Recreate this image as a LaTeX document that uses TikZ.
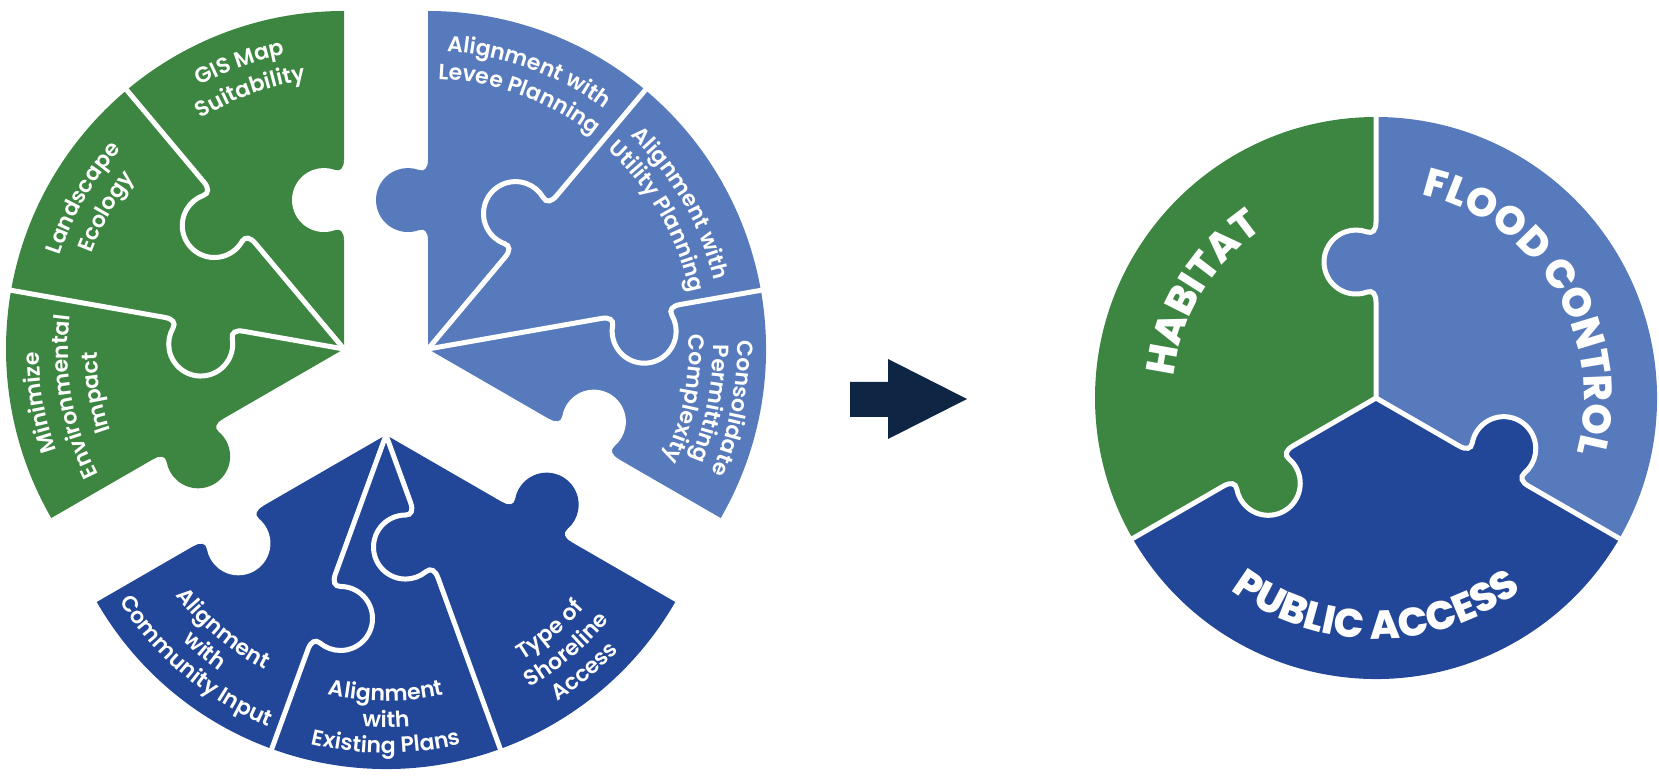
\documentclass[tikz,border=0pt]{standalone}
\usepackage{fontspec}
\setmainfont{Poppins}
\newfontfamily\psemi{Poppins SemiBold}
\newfontfamily\pxbold{Poppins ExtraBold}
\usetikzlibrary{decorations.text}
\definecolor{cgreen}{RGB}{61,134,65}
\definecolor{clight}{RGB}{87,122,188}
\definecolor{cdark}{RGB}{34,70,152}
\definecolor{cnavy}{RGB}{14,37,68}
% puzzle knob outline in a local frame: divider along +x, bulge towards +y, #1 = centre
\newcommand{\knobcurve}[1]{.. controls ({#1-32},0) and ({#1-28},3.4) .. ({#1-30.1},9.05) arc[start angle=200,end angle=-20,radius=32] .. controls ({#1+28},3.4) and ({#1+32},0) .. ({#1+40},0)}
\newcommand{\divline}[2]{\draw[divider] (0,0) -- ({#1-40},0) \knobcurve{#1} -- (#2,0);}
\newcommand{\knobfill}[2]{\fill[#2] ({#1-40},-4) -- ({#1-40},0) \knobcurve{#1} -- ({#1+40},-4) -- cycle;}
\newcommand{\cwlabel}[4]{\path[decorate,decoration={text along path,text align=center,text color=white,text={|#3|#4}}] ({#1+70}:#2) arc[start angle={#1+70},end angle={#1-70},radius=#2];}
\newcommand{\ccwlabel}[4]{\path[decorate,decoration={text along path,text align=center,text color=white,text={|#3|#4}}] ({#1-70}:#2) arc[start angle={#1-70},end angle={#1+70},radius=#2];}
\newcommand{\smallfmt}{\psemi\fontsize{11}{13}\selectfont}
\newcommand{\bigfmt}{\pxbold\fontsize{20}{24}\selectfont}
\begin{document}
\begin{tikzpicture}[x=0.5pt,y=0.5pt,divider/.style={draw=white,line width=2.5pt}]
\useasboundingbox (0,0) rectangle (1659,777);
\coordinate (G) at (344,428);
\coordinate (L) at (428,428);
\coordinate (D) at (386,342);
\coordinate (C) at (1376,379);

% ---------- left: green group ----------
\fill[cgreen] (G) -- ++(90:338) arc[start angle=90,end angle=210,radius=338] -- cycle;
\begin{scope}[shift={(G)},rotate=90] \knobfill{149}{white} \end{scope}
\begin{scope}[shift={(G)},rotate=210] \knobfill{180}{cgreen} \end{scope}
\begin{scope}[shift={(G)},rotate=130] \divline{178}{342} \end{scope}
\begin{scope}[shift={(G)},rotate=170] \divline{142}{342} \end{scope}

% ---------- left: light blue group ----------
\fill[clight] (L) -- ++(-30:338) arc[start angle=-30,end angle=90,radius=338] -- cycle;
\begin{scope}[shift={(L)},rotate=90] \knobfill{149}{clight} \end{scope}
\begin{scope}[shift={(L)},rotate=-30] \knobfill{180}{white} \end{scope}
\begin{scope}[shift={(L)},rotate=50] \divline{160}{342} \end{scope}
\begin{scope}[shift={(L)},rotate=10,yscale=-1] \divline{216}{342} \end{scope}

% ---------- left: dark blue group ----------
\fill[cdark] (D) -- ++(210:334) arc[start angle=210,end angle=330,radius=334] -- cycle;
\begin{scope}[shift={(D)},rotate=210] \knobfill{182}{white} \end{scope}
\begin{scope}[shift={(D)},rotate=330] \knobfill{174}{cdark} \end{scope}
\begin{scope}[shift={(D)},rotate=250] \divline{188}{338} \end{scope}
\begin{scope}[shift={(D)},rotate=290,yscale=-1] \divline{112}{338} \end{scope}

% ---------- left labels ----------
\begin{scope}[shift={(G)}]
\cwlabel{110}{300}{\smallfmt}{GIS Map}
\cwlabel{110}{271}{\smallfmt}{Suitability}
\cwlabel{150}{299}{\smallfmt}{Landscape}
\cwlabel{150}{270}{\smallfmt}{Ecology}
\cwlabel{190}{305}{\smallfmt}{Minimize}
\cwlabel{190}{276}{\smallfmt}{Environmental}
\cwlabel{190}{247}{\smallfmt}{Impact}
\end{scope}
\begin{scope}[shift={(L)}]
\cwlabel{70}{298}{\smallfmt}{Alignment with}
\cwlabel{70}{270}{\smallfmt}{Levee Planning}
\cwlabel{30}{294}{\smallfmt}{Alignment with}
\cwlabel{30}{268}{\smallfmt}{Utility Planning}
\cwlabel{-11}{309}{\smallfmt}{Consolidate}
\cwlabel{-11}{285}{\smallfmt}{Permitting}
\cwlabel{-11}{261}{\smallfmt}{Complexity}
\end{scope}
\begin{scope}[shift={(D)}]
\ccwlabel{230}{264}{\smallfmt}{Alignment}
\ccwlabel{230}{289}{\smallfmt}{with}
\ccwlabel{230}{314}{\smallfmt}{Community Input}
\ccwlabel{270}{266}{\smallfmt}{Alignment}
\ccwlabel{270}{292}{\smallfmt}{with}
\ccwlabel{270}{318}{\smallfmt}{Existing Plans}
\ccwlabel{310}{263}{\smallfmt}{Type of}
\ccwlabel{310}{290}{\smallfmt}{Shoreline}
\ccwlabel{310}{317}{\smallfmt}{Access}
\end{scope}

% ---------- arrow ----------
\fill[cnavy] (850,395) -- (888,395) -- (888,418) -- (967,378) -- (888,338) -- (888,360) -- (850,360) -- cycle;

% ---------- right circle ----------
\fill[cgreen] (C) -- ++(90:281) arc[start angle=90,end angle=210,radius=281] -- cycle;
\fill[cdark] (C) -- ++(210:281) arc[start angle=210,end angle=330,radius=281] -- cycle;
\fill[clight] (C) -- ++(-30:281) arc[start angle=-30,end angle=90,radius=281] -- cycle;
\begin{scope}[shift={(C)},rotate=90] \knobfill{136}{clight} \end{scope}
\begin{scope}[shift={(C)},rotate=210] \knobfill{136}{cgreen} \end{scope}
\begin{scope}[shift={(C)},rotate=330] \knobfill{136}{cdark} \end{scope}
\begin{scope}[shift={(C)},rotate=90] \divline{136}{284} \end{scope}
\begin{scope}[shift={(C)},rotate=210] \divline{136}{284} \end{scope}
\begin{scope}[shift={(C)},rotate=330] \divline{136}{284} \end{scope}
\begin{scope}[shift={(C)}]
\cwlabel{149}{203}{\bigfmt}{HABITAT}
\cwlabel{31}{208}{\bigfmt}{FLOOD CONTROL}
\ccwlabel{270}{241}{\bigfmt}{PUBLIC ACCESS}
\end{scope}
\end{tikzpicture}
\end{document}
